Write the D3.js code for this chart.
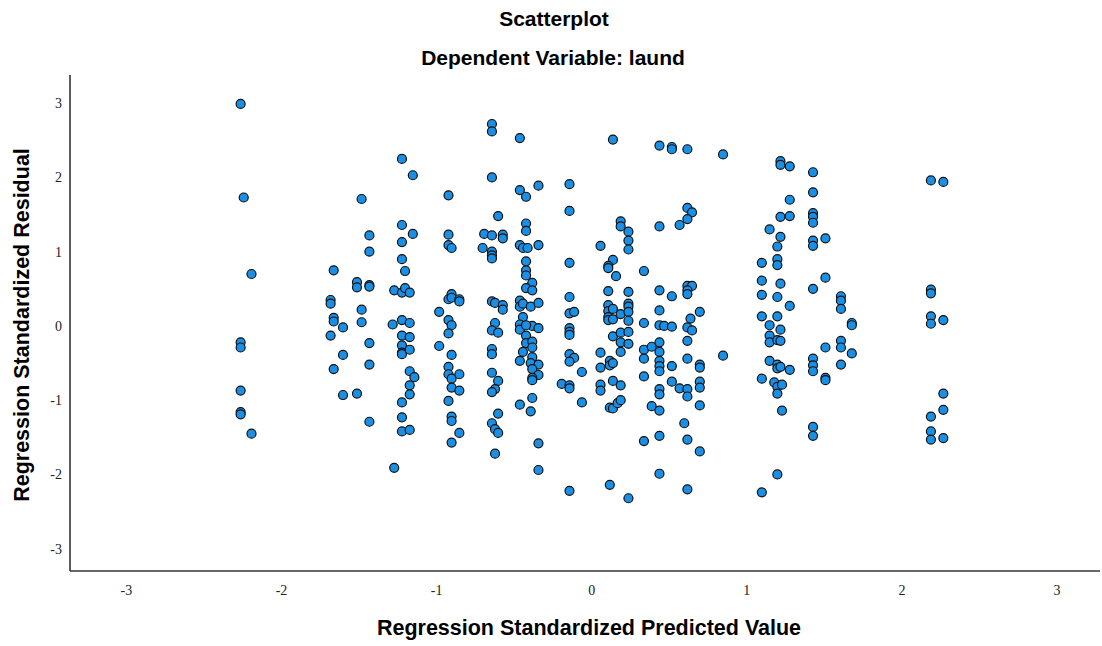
<!DOCTYPE html>
<html>
<head>
<meta charset="utf-8">
<script src="https://cdn.jsdelivr.net/npm/d3@7"></script>
<style>
  html, body { margin: 0; padding: 0; background: #fff; }
  svg { display: block; }
</style>
</head>
<body>
<svg id="chart" width="1102" height="646"></svg>
<script>
// Regression standardized predicted value (x) for each case
const predicted = [
  -2.26,-2.24,-2.19,-2.26,-2.26,-2.26,-2.26,-2.26,-2.19,
  -1.66,-1.68,-1.68,-1.66,-1.66,-1.60,-1.68,-1.60,-1.66,-1.60,
  -1.48,-1.43,-1.43,-1.51,-1.51,-1.43,-1.43,-1.48,-1.48,-1.43,-1.43,-1.51,-1.43,
  -1.27,-1.28,-1.27,
  -1.22,-1.22,-1.22,-1.22,-1.22,-1.22,-1.22,-1.22,-1.22,-1.22,-1.22,-1.22,-1.22,
  -1.15,-1.15,-1.20,-1.20,-1.17,-1.17,-1.17,-1.17,-1.17,-1.14,-1.17,-1.17,-1.17,
  -0.92,-0.92,-0.92,-0.90,-0.92,-0.90,-0.90,-0.85,-0.85,-0.98,-0.92,-0.90,
  -0.92,-0.98,-0.90,-0.92,-0.92,-0.90,-0.85,-0.90,-0.85,-0.92,-0.90,-0.90,-0.85,-0.90,
  -0.64,-0.64,-0.64,-0.60,-0.69,-0.64,-0.57,-0.57,-0.70,-0.64,-0.64,-0.64,-0.64,-0.62,-0.57,-0.57,-0.62,-0.64,
  -0.60,-0.64,-0.64,-0.64,-0.60,-0.62,-0.64,-0.60,-0.64,-0.62,-0.60,-0.62,
  -0.46,-0.46,-0.42,-0.34,-0.42,-0.42,-0.46,-0.44,-0.41,-0.34,-0.42,-0.42,-0.42,-0.38,-0.42,-0.38,
  -0.46,-0.46,-0.44,-0.39,-0.34,-0.44,-0.46,-0.38,-0.34,-0.46,-0.42,
  -0.42,-0.42,-0.38,-0.38,-0.44,-0.46,-0.38,-0.39,-0.34,-0.38,-0.34,-0.38,-0.38,-0.38,-0.46,-0.39,-0.34,-0.34,
  -0.14,-0.14,-0.14,-0.14,-0.14,-0.11,-0.14,-0.14,-0.14,-0.14,-0.11,-0.14,-0.06,-0.19,-0.14,-0.14,-0.06,-0.14,
  0.14,0.19,0.19,0.24,0.24,0.24,0.06,0.14,0.11,0.11,0.16,0.11,0.24,0.11,0.11,0.14,0.11,0.11,0.14,0.19,0.24,0.24,0.24,0.24,
  0.14,0.19,0.24,0.19,0.24,0.19,0.06,0.06,0.12,0.12,0.14,0.06,0.06,0.14,0.19,0.12,0.14,0.17,0.19,0.12,0.24,
  0.44,0.52,0.52,0.44,0.34,0.44,0.52,0.44,0.34,0.44,0.47,0.52,0.34,0.34,0.39,0.44,0.44,0.44,0.44,0.44,
  0.52,0.34,0.52,0.44,0.44,0.39,0.44,0.34,0.44,0.44,
  0.62,0.85,0.62,0.65,0.62,0.57,0.62,0.65,0.62,0.62,0.64,0.70,0.62,0.65,0.62,0.62,0.70,0.70,0.85,
  0.57,0.62,0.62,0.70,0.70,0.70,0.60,0.62,0.70,0.62,
  1.22,1.22,1.28,1.28,1.22,1.28,1.15,1.22,1.20,1.10,1.20,1.20,1.10,1.22,1.10,1.20,1.28,1.10,1.20,1.15,1.22,
  1.15,1.15,1.20,1.22,1.15,1.20,1.20,1.22,1.28,1.10,1.18,1.20,1.23,1.20,1.23,1.20,1.10,
  1.43,1.43,1.43,1.43,1.43,1.51,1.43,1.43,1.51,1.43,1.61,1.61,1.61,1.68,1.68,
  1.51,1.61,1.61,1.68,1.43,1.43,1.43,1.61,1.51,1.51,1.43,1.43,
  2.19,2.27,2.19,2.19,2.19,2.19,2.27,2.27,2.27,2.19,2.19,2.19,2.27
];

// Regression standardized residual (y) for each case, same order
const residual = [
  2.99,1.73,0.70,-0.22,-0.29,-0.87,-1.16,-1.19,-1.45,
  0.75,0.35,0.30,0.11,0.06,-0.02,-0.13,-0.39,-0.58,-0.93,
  1.71,1.22,1.00,0.59,0.52,0.55,0.53,0.22,0.05,-0.23,-0.52,-0.91,-1.29,
  0.48,0.02,-1.91,
  2.25,1.36,1.13,0.90,0.45,0.08,-0.13,-0.26,-0.36,-0.38,-1.03,-1.23,-1.42,
  2.03,1.24,0.74,0.51,0.45,0.04,-0.15,-0.32,-0.61,-0.69,-0.80,-0.92,-1.40,
  1.76,1.23,1.09,1.05,0.36,0.43,0.38,0.36,0.33,0.19,0.08,0.01,
  -0.10,-0.27,-0.39,-0.55,-0.65,-0.71,-0.65,-0.83,-0.87,-1.01,-1.22,-1.28,-1.44,-1.57,
  2.72,2.62,2.00,1.48,1.24,1.22,1.23,1.18,1.05,1.00,0.95,0.91,0.33,0.31,0.28,0.22,0.04,-0.06,
  -0.09,-0.31,-0.38,-0.63,-0.74,-0.85,-0.89,-1.18,-1.31,-1.39,-1.44,-1.72,
  2.53,1.83,1.74,1.89,1.38,1.28,1.09,1.05,1.05,1.09,0.87,0.75,0.68,0.58,0.51,0.48,
  0.34,0.26,0.30,0.26,0.31,0.12,0.02,0.00,-0.03,-0.05,0.01,
  -0.13,-0.23,-0.21,-0.29,-0.35,-0.47,-0.42,-0.50,-0.52,-0.58,-0.66,-0.70,-0.73,-0.97,-1.06,-1.15,-1.58,-1.94,
  1.91,1.55,0.85,0.39,0.17,0.19,-0.03,-0.08,-0.12,-0.38,-0.43,-0.48,-0.62,-0.78,-0.80,-0.84,-1.03,-2.22,
  2.51,1.41,1.34,1.27,1.15,1.03,1.08,0.89,0.81,0.78,0.67,0.47,0.46,0.28,0.20,0.23,0.12,0.08,0.09,0.16,0.30,0.26,0.19,0.07,
  -0.14,-0.09,-0.08,-0.22,-0.24,-0.35,-0.36,-0.56,-0.47,-0.53,-0.50,-0.79,-0.87,-0.74,-0.80,-1.10,-1.11,-1.04,-1.00,-2.14,-2.32,
  2.43,2.41,2.38,1.34,0.74,0.48,0.40,0.21,0.04,0.01,0.00,-0.01,-0.32,-0.44,-0.28,-0.22,-0.35,-0.47,-0.54,-0.61,
  -0.54,-0.68,-0.75,-0.85,-0.92,-1.08,-1.14,-1.55,-1.48,-1.99,
  2.38,2.31,1.59,1.53,1.44,1.36,0.54,0.54,0.48,0.43,0.10,0.19,-0.02,-0.06,-0.20,-0.44,-0.52,-0.56,-0.40,
  -0.84,-0.85,-0.95,-0.75,-0.83,-1.07,-1.31,-1.53,-1.69,-2.20,
  2.22,2.17,2.15,1.70,1.47,1.48,1.30,1.20,1.07,0.85,0.90,0.82,0.61,0.57,0.42,0.39,0.27,0.13,0.13,0.01,-0.05,
  -0.13,-0.22,-0.19,-0.20,-0.47,-0.52,-0.57,-0.55,-0.59,-0.71,-0.76,-0.82,-0.79,-0.91,-1.14,-2.00,-2.24,
  2.07,1.80,1.52,1.47,1.39,1.18,1.15,1.08,0.65,0.50,0.40,0.34,0.23,0.04,0.01,
  -0.29,-0.20,-0.29,-0.37,-0.44,-0.53,-0.61,-0.52,-0.70,-0.73,-1.36,-1.48,
  1.96,1.94,0.49,0.44,0.13,0.03,0.08,-0.91,-1.13,-1.22,-1.42,-1.53,-1.51
];

const xTicks = [-3, -2, -1, 0, 1, 2, 3];
const yTicks = [-3, -2, -1, 0, 1, 2, 3];

const titleText = "Scatterplot";
const subtitleText = "Dependent Variable: laund";
const xTitle = "Regression Standardized Predicted Value";
const yTitle = "Regression Standardized Residual";

const points = predicted.map((p, i) => ({ x: p, y: residual[i] }));

const svg = d3.select("#chart");

const x = d3.scaleLinear().domain([-3.36, 3.28]).range([70, 1100]);
const y = d3.scaleLinear().domain([-3.3, 3.38]).range([571, 75]);

// Titles
const titleFont = "'Liberation Sans', Arial, sans-serif";
svg.append("text")
  .attr("x", 554).attr("y", 26)
  .attr("text-anchor", "middle")
  .style("font-family", titleFont).style("font-weight", "bold").style("font-size", "21px")
  .attr("fill", "#000")
  .text(titleText);
svg.append("text")
  .attr("x", 553).attr("y", 65)
  .attr("text-anchor", "middle")
  .style("font-family", titleFont).style("font-weight", "bold").style("font-size", "21px")
  .attr("fill", "#000")
  .text(subtitleText);

// Axes (lines + labels, no tick marks)
const xAxis = d3.axisBottom(x).tickValues(xTicks).tickSize(0).tickPadding(14)
  .tickFormat(d => String(d));
const yAxis = d3.axisLeft(y).tickValues(yTicks).tickSize(0).tickPadding(8)
  .tickFormat(d => String(d));

const gx = svg.append("g").attr("transform", "translate(0,571)").call(xAxis);
const gy = svg.append("g").attr("transform", "translate(70,0)").call(yAxis);

[gx, gy].forEach(g => {
  g.select(".domain").attr("stroke", "#333").attr("stroke-width", 1.6);
  g.selectAll(".tick text")
    .style("font-family", "'Liberation Serif', 'Times New Roman', serif")
    .style("font-size", "14px")
    .attr("fill", "#222");
});
gx.select(".domain").attr("d", `M${x.range()[0]},0H${x.range()[1]}`);
gy.select(".domain").attr("d", `M0,${y.range()[1]}V${y.range()[0]}`);

// Axis titles
svg.append("text")
  .attr("x", 589).attr("y", 635)
  .attr("text-anchor", "middle")
  .style("font-family", titleFont).style("font-weight", "bold").style("font-size", "21.5px")
  .attr("fill", "#000")
  .text(xTitle);
svg.append("text")
  .attr("transform", "translate(29,325) rotate(-90)")
  .attr("text-anchor", "middle")
  .style("font-family", titleFont).style("font-weight", "bold").style("font-size", "21.5px")
  .attr("fill", "#000")
  .text(yTitle);

// Points
svg.append("g")
  .selectAll("circle")
  .data(points)
  .join("circle")
  .attr("cx", d => x(d.x))
  .attr("cy", d => y(d.y))
  .attr("r", 4.5)
  .attr("fill", "#1a8fe6")
  .attr("stroke", "#111")
  .attr("stroke-width", 1.2);
</script>
</body>
</html>
